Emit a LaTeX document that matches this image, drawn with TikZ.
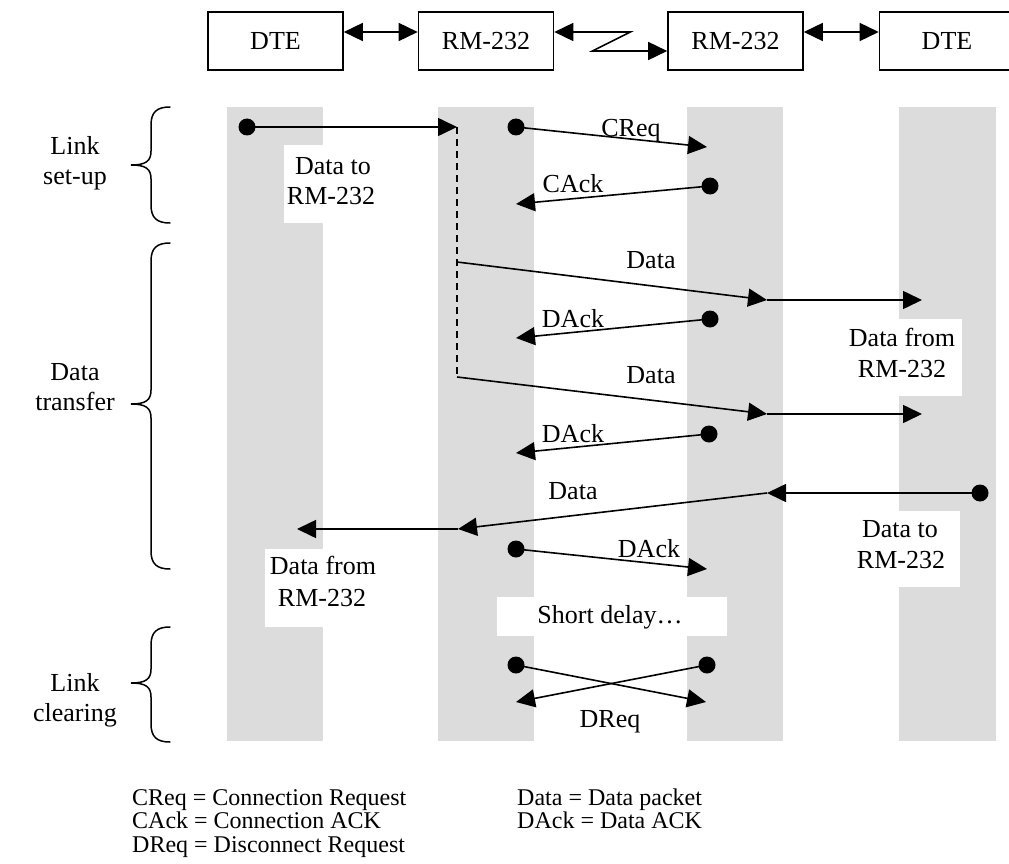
\documentclass[tikz,border=0pt]{standalone}
\usepackage{fontspec}
\setmainfont{Liberation Serif}
\usetikzlibrary{arrows.meta}
\definecolor{lanegray}{RGB}{220,220,220}
\newcommand\mybrace[3]{%
  \draw[brace] (170,#1) .. controls (157,#1) and (151,#1+5) .. (151,#1+18)
    -- (151,#2-14) .. controls (151,#2-4) and (146,#2) .. (131,#2)
    .. controls (146,#2) and (151,#2+4) .. (151,#2+14)
    -- (151,#3-18) .. controls (151,#3-5) and (157,#3) .. (170,#3);}
\begin{document}
\begin{tikzpicture}[x=1pt,y=-1pt,
  box/.style={draw, line width=1.6pt, minimum width=135pt, minimum height=58pt, inner sep=0pt, font=\fontsize{26}{30}\selectfont},
  lbl/.style={font=\fontsize{26}{30}\selectfont, anchor=base, inner sep=0pt},
  leg/.style={font=\fontsize{24}{24}\selectfont, anchor=base west, inner sep=0pt},
  dot/.style={circle, fill=black, inner sep=0pt, minimum size=17pt},
  msg/.style={line width=1.6pt, -{Triangle[length=19pt,width=18pt]}},
  dbl/.style={line width=1.6pt, {Triangle[length=19pt,width=18pt]}-{Triangle[length=19pt,width=18pt]}},
  lane/.style={fill=lanegray},
  blank/.style={fill=white},
  brace/.style={line width=1.5pt, line cap=round}
]
\path[use as bounding box] (0,0) rectangle (1009,864);
\clip (0,0) rectangle (1009,864);

% top boxes
\node[box] (dte1) at (275.5,41) {DTE};
\node[box] (rm1) at (486,41) {RM-232};
\node[box] (rm2) at (735.5,41) {RM-232};
\node[box] (dte2) at (947,41) {DTE};
\draw[dbl] ([yshift=9pt]dte1.east) -- ([yshift=9pt]rm1.west);
\draw[dbl] ([yshift=9pt]rm1.east) -- ++(76,0) -- ++(-38,19) -- ([yshift=-10pt]rm2.west);
\draw[dbl] ([yshift=9pt]rm2.east) -- ([yshift=9pt]dte2.west);

% lanes
\fill[lane] (227,107) rectangle (323,741);
\fill[lane] (438,107) rectangle (534,741);
\fill[lane] (687,107) rectangle (783,741);
\fill[lane] (899,107) rectangle (996,741);

% white label backgrounds
\fill[blank] (284,145) rectangle (378,223);
\fill[blank] (841,319) rectangle (962,396);
\fill[blank] (265,549) rectangle (380,627);
\fill[blank] (851,511) rectangle (960,587);
\fill[blank] (497,597) rectangle (727,636);

% braces and phase labels
\mybrace{107}{165}{223}
\mybrace{243}{404}{569}
\mybrace{627}{683}{742}
\node[lbl] (p1a) at (75,154) {Link};
\node[lbl] (p1b) at (75,184) {set-up};
\node[lbl] (p2a) at (75,380) {Data};
\node[lbl] (p2b) at (75,410) {transfer};
\node[lbl] (p3a) at (75,691) {Link};
\node[lbl] (p3b) at (75,721) {clearing};

% data to RM-232 (left DTE)
\node[dot] (s1) at (247,127) {};
\coordinate (t1) at (457,127);
\coordinate (j1) at (457,262);
\coordinate (j2) at (457,377);
\draw[msg] (s1.center) -- (t1);
\draw[line width=1.2pt, dash pattern=on 7pt off 5pt] (t1) -- (j2);
\node[lbl] (l1a) at (333,174) {Data to};
\node[lbl] (l1b) at (331,204) {RM-232};

% CReq
\node[dot] (s2) at (516,127) {};
\coordinate (t2) at (707,147);
\draw[msg] (s2.center) -- (t2);
\node[lbl] (l2) at (631,137) {CReq};

% CAck
\node[dot] (s3) at (710,186) {};
\coordinate (t3) at (516,204);
\draw[msg] (s3.center) -- (t3);
\node[lbl] (l3) at (573,192) {CAck};

% Data 1
\coordinate (m1) at (767,300);
\coordinate (t4) at (922,300);
\draw[msg] (j1) -- (m1);
\draw[msg] (m1) -- (t4);
\node[lbl] (l4) at (651,268) {Data};

% DAck 1
\node[dot] (s5) at (710,319) {};
\coordinate (t5) at (516,338);
\draw[msg] (s5.center) -- (t5);
\node[lbl] (l5) at (573,327) {DAck};

% Data from RM-232 (right)
\node[lbl] (l6a) at (902,346) {Data from};
\node[lbl] (l6b) at (902,377) {RM-232};

% Data 2
\coordinate (m2) at (767,414);
\coordinate (t6) at (922,414);
\draw[msg] (j2) -- (m2);
\draw[msg] (m2) -- (t6);
\node[lbl] (l7) at (651,383) {Data};

% DAck 2
\node[dot] (s8) at (709,434) {};
\coordinate (t8) at (516,453);
\draw[msg] (s8.center) -- (t8);
\node[lbl] (l8) at (573,442) {DAck};

% Data 3 (from right DTE)
\node[dot] (s9) at (980,493) {};
\coordinate (m3) at (767,493);
\coordinate (m4) at (458,529);
\coordinate (t9) at (297,529);
\draw[msg] (s9.center) -- (m3);
\draw[msg] (m3) -- (m4);
\draw[msg] (m4) -- (t9);
\node[lbl] (l9) at (573,499) {Data};
\node[lbl] (l9a) at (900,537) {Data to};
\node[lbl] (l9b) at (901,568) {RM-232};
\node[lbl] (l9c) at (323,574) {Data from};
\node[lbl] (l9d) at (322,606) {RM-232};

% DAck 3
\node[dot] (s10) at (516,549) {};
\coordinate (t10) at (707,569);
\draw[msg] (s10.center) -- (t10);
\node[lbl] (l10) at (649,557) {DAck};

% short delay
\node[lbl] (l11) at (610,623) {Short delay…};

% DReq cross
\node[dot] (s12) at (516,665) {};
\node[dot] (s13) at (707,665) {};
\coordinate (t12) at (706,702);
\coordinate (t13) at (516,702);
\draw[msg] (s12.center) -- (t12);
\draw[msg] (s13.center) -- (t13);
\node[lbl] (l12) at (610,727) {DReq};

% legend
\node[leg] (g1) at (132,805) {CReq = Connection Request};
\node[leg] (g2) at (132,828.5) {CAck = Connection ACK};
\node[leg] (g3) at (132,852) {DReq = Disconnect Request};
\node[leg] (g4) at (517,805) {Data = Data packet};
\node[leg] (g5) at (517,828.5) {DAck = Data ACK};
\end{tikzpicture}
\end{document}
